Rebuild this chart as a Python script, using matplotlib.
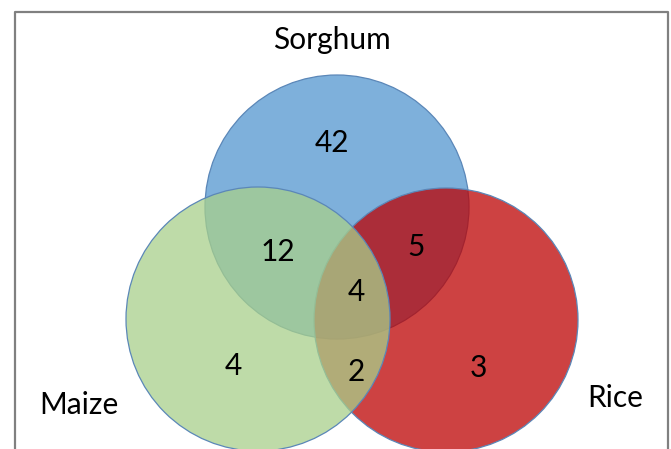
import matplotlib
matplotlib.use("Agg")
import matplotlib.pyplot as plt
from matplotlib.patches import Circle

# Set names and region counts
set_names = ["Sorghum", "Maize", "Rice"]
only_sorghum = 42
sorghum_maize = 12
sorghum_rice = 5
all_three = 4
only_maize = 4
maize_rice = 2
only_rice = 3

plt.rcParams['font.family'] = ['Lato', 'DejaVu Sans']

fig = plt.figure(figsize=(6.71, 4.49), dpi=100)
ax = fig.add_axes([0, 0, 1, 1])
ax.set_xlim(0, 671)
ax.set_ylim(449, 0)
ax.axis("off")

# Circles (pixel layout), drawn blue -> red -> green
edge = "#5b87b8"
ax.add_patch(Circle((337, 207), 132, facecolor="#7eb0db", edgecolor=edge, lw=0.9, zorder=1))
ax.add_patch(Circle((446, 320), 132, facecolor=(188/255, 0, 0, 0.74), edgecolor=edge, lw=0.9, zorder=2))
ax.add_patch(Circle((258, 319), 132, facecolor=(168/255, 208/255, 139/255, 0.75), edgecolor=edge, lw=0.9, zorder=3))

# Frame
ax.plot([15, 15, 668, 668], [449, 12, 12, 449], color="#808080", lw=1.6, zorder=5)

fs = 21.5
txt = dict(ha="center", va="center", fontsize=fs, color="black", zorder=6)
ax.text(332, 40, set_names[0], **txt)
ax.text(79, 405, set_names[1], **txt)
ax.text(615, 398, set_names[2], **txt)

ax.text(332, 143, str(only_sorghum), **txt)
ax.text(278, 252, str(sorghum_maize), **txt)
ax.text(416, 247, str(sorghum_rice), **txt)
ax.text(356, 292, str(all_three), **txt)
ax.text(233, 366, str(only_maize), **txt)
ax.text(356, 372, str(maize_rice), **txt)
ax.text(478, 368, str(only_rice), **txt)

fig.savefig("out.png", dpi=100)
